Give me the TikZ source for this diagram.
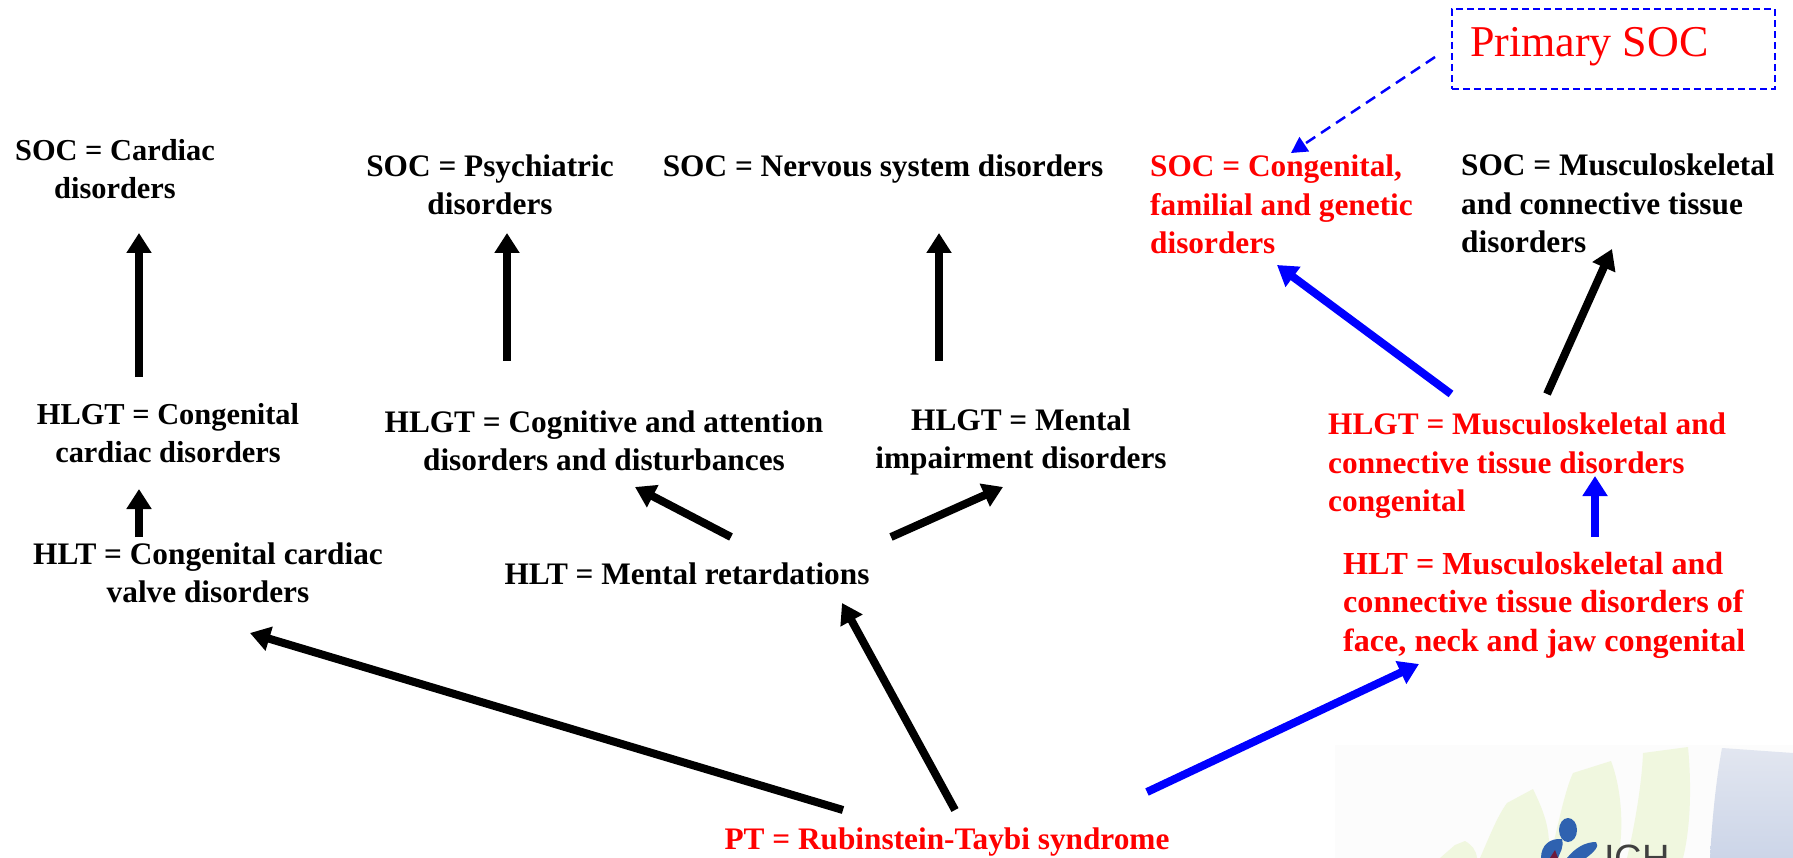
\documentclass[tikz,border=0pt]{standalone}
\usepackage{fontspec}
\setmainfont{Liberation Serif}
\newfontfamily\logofont{Liberation Sans}
\usetikzlibrary{arrows.meta}
\definecolor{finA}{HTML}{F0F7DF}
\definecolor{panelT}{HTML}{E2E6F0}
\definecolor{panelC}{HTML}{CCD5E8}
\definecolor{logoB}{HTML}{2F62B0}
\definecolor{logoR}{HTML}{6E1A3C}
\tikzset{
  lbl/.style={font=\fontsize{31.3}{38.5}\selectfont\bfseries, inner sep=0pt, align=center},
  lbls/.style={lbl, font=\fontsize{30.4}{38.5}\selectfont\bfseries},
  lblb/.style={lbl, font=\fontsize{32.1}{38.5}\selectfont\bfseries},
  lbll/.style={lbl, align=left},
  redt/.style={text=red},
  arr/.style={line width=8pt, -{Triangle[length=20pt,width=24pt]}},
  arrk/.style={arr, draw=black},
  arrb/.style={arr, draw=blue},
}
\begin{document}
\begin{tikzpicture}[x=1pt,y=-1pt]
\useasboundingbox (0,0) rectangle (1793,858);
% watermark
\fill[black!1] (1335,745) rectangle (1793,858);
\begin{scope}
\clip (0,0) rectangle (1793,858);
\fill[finA] (1627,858) .. controls (1636,820) and (1642,780) .. (1643,753) -- (1688,747) .. controls (1692,790) and (1690,830) .. (1683,858) -- cycle;
\fill[finA] (1550,858) .. controls (1558,825) and (1565,790) .. (1573,773) -- (1611,761) .. controls (1622,790) and (1624,830) .. (1618,858) -- cycle;
\fill[finA] (1480,858) .. controls (1490,835) and (1498,815) .. (1507,803) -- (1533,789) .. controls (1543,810) and (1552,830) .. (1548,858) -- cycle;
\fill[finA] (1440,858) -- (1455,845) -- (1465,841) .. controls (1472,845) and (1476,850) .. (1477,858) -- cycle;
\shade[top color=panelT, bottom color=panelC] (1722,748) -- (1793,753) -- (1793,858) -- (1710,858) .. controls (1712,820) and (1716,780) .. (1722,748) -- cycle;
\fill[logoB] (1568,830) ellipse (9 and 12);
\fill[logoB] (1541,858) .. controls (1541,845) and (1550,838) .. (1562,839) .. controls (1564,848) and (1560,852) .. (1558,858) -- cycle;
\fill[logoR] (1550,858) -- (1555,850) -- (1558,858) -- cycle;
\fill[logoB] (1567,858) .. controls (1575,848) and (1585,842) .. (1596,842) .. controls (1600,846) and (1594,852) .. (1586,858) -- cycle;
\node[name=ich, anchor=base west, inner sep=0pt, text=black!75, font=\logofont\fontsize{38}{38}\selectfont] at (1604,871) {ICH};
\end{scope}
% nodes
\node[lbls] (s1) at (115,169) {SOC = Cardiac\\disorders};
\node[lbl] (s2) at (490,185) {SOC = Psychiatric\\disorders};
\node[lbl] (s3) at (883,169) {SOC = Nervous system disorders};
\node[lbll,redt,anchor=north west] (s4) at (1150,155) {SOC = Congenital,\\familial and genetic\\disorders};
\node[lbll,anchor=north west] (s5) at (1461,154) {SOC = Musculoskeletal\\and connective tissue\\disorders};
\node[lbls] (g1) at (168,433) {HLGT = Congenital\\cardiac disorders};
\node[lbl] (g2) at (604,441) {HLGT = Cognitive and attention\\disorders and disturbances};
\node[lbl] (g3) at (1021,442) {HLGT = Mental\\impairment disorders};
\node[lbll,redt,anchor=north west] (g4) at (1328,413) {HLGT = Musculoskeletal and\\connective tissue disorders\\congenital};
\node[lbl] (t1) at (208,573) {HLT = Congenital cardiac\\valve disorders};
\node[lbl] (t2) at (687,574) {HLT = Mental retardations};
\node[lblb,align=left,redt,anchor=north west] (t3) at (1343,552) {HLT = Musculoskeletal and\\connective tissue disorders of\\face, neck and jaw congenital};
\node[lbl,redt] (pt) at (947,842) {PT = Rubinstein-Taybi syndrome};
\node[draw=blue, line width=1.5pt, dash pattern=on 7pt off 4pt, minimum width=323pt, minimum height=80pt, inner sep=0pt] (box) at (1613.5,49) {};
\node[anchor=west, inner sep=0pt, text=red, font=\fontsize{44}{44}\selectfont] (prim) at (1470,47) {Primary SOC};
% connector ends
\coordinate (a1s) at (139,377); \coordinate (a1e) at (139,233);
\coordinate (a2s) at (507,361); \coordinate (a2e) at (507,233);
\coordinate (a3s) at (939,361); \coordinate (a3e) at (939,233);
\coordinate (a4s) at (1451,394); \coordinate (a4e) at (1277,265);
\coordinate (a5s) at (1547,394); \coordinate (a5e) at (1612,249);
\coordinate (a6s) at (139,537); \coordinate (a6e) at (139,489);
\coordinate (a7s) at (731,537); \coordinate (a7e) at (635,487);
\coordinate (a8s) at (891,537); \coordinate (a8e) at (1003,487);
\coordinate (a9s) at (1595,537); \coordinate (a9e) at (1595,476);
\coordinate (b1s) at (843,810); \coordinate (b1e) at (250,633);
\coordinate (b2s) at (955,810); \coordinate (b2e) at (842,603);
\coordinate (b3s) at (1147,792); \coordinate (b3e) at (1419,664);
\coordinate (ds) at (1435,57); \coordinate (de) at (1291,153);
% connectors
\draw[arrk] (a1s) -- (a1e);
\draw[arrk] (a2s) -- (a2e);
\draw[arrk] (a3s) -- (a3e);
\draw[arrb] (a4s) -- (a4e);
\draw[arrk] (a5s) -- (a5e);
\draw[arrk] (a6s) -- (a6e);
\draw[arrk] (a7s) -- (a7e);
\draw[arrk] (a8s) -- (a8e);
\draw[arrb] (a9s) -- (a9e);
\draw[arrk] (b1s) -- (b1e);
\draw[arrk] (b2s) -- (b2e);
\draw[arrb] (b3s) -- (b3e);
\draw[draw=blue, line width=2.5pt, dash pattern=on 11pt off 7pt, -{Triangle[length=16pt,width=17pt]}] (ds) -- (de);
\end{tikzpicture}
\end{document}
